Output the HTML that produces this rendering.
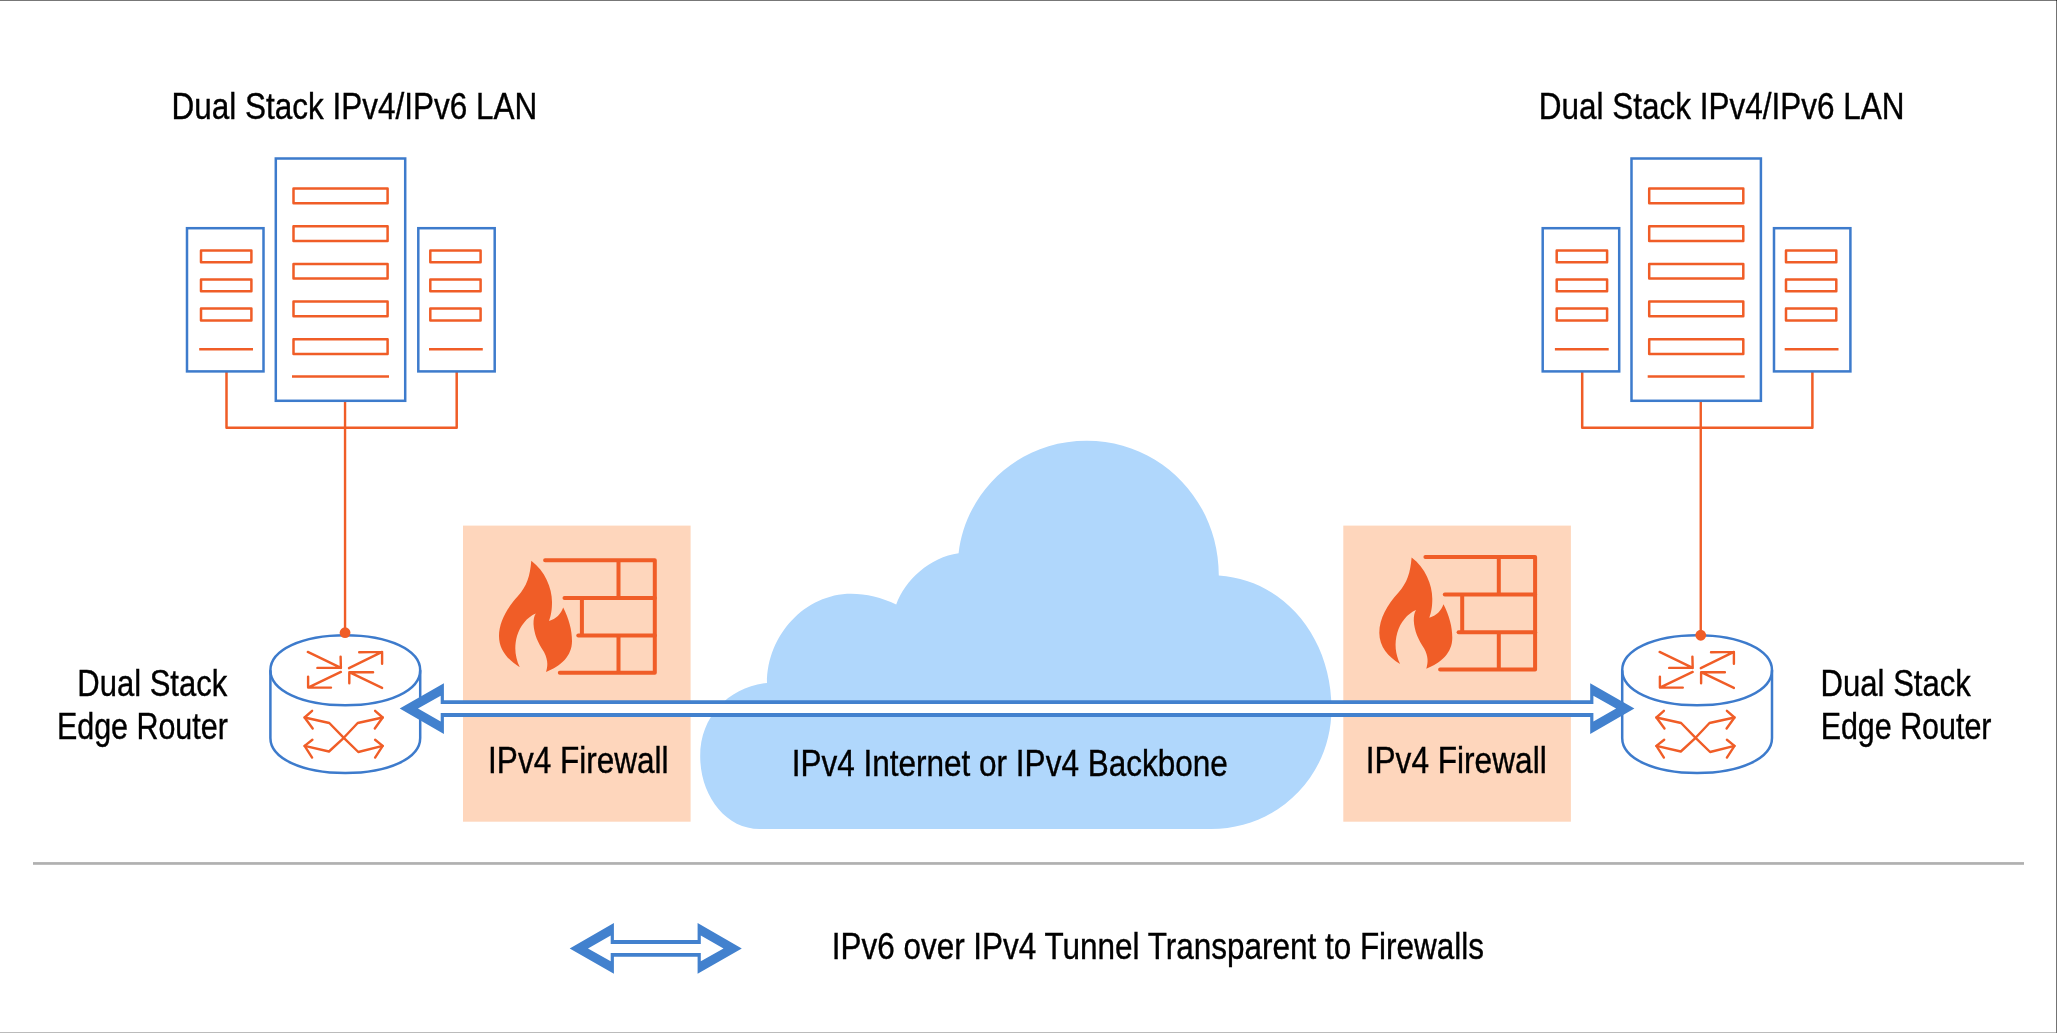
<!DOCTYPE html><html><head><meta charset="utf-8"><style>html,body{margin:0;padding:0;background:#fff;overflow:hidden}svg{display:block}</style></head><body>
<div style="will-change:transform"><svg width="2057" height="1033" viewBox="0 0 2057 1033" style="font-family:'Liberation Sans',sans-serif">
<rect x="0" y="0" width="2057" height="1033" fill="#fff"/>
<text transform="translate(171.55 119.40) scale(0.8422 1)" font-size="37.40" stroke="#000" stroke-width="0.40">Dual Stack IPv4/IPv6 LAN</text>
<text transform="translate(1538.75 119.40) scale(0.8420 1)" font-size="37.40" stroke="#000" stroke-width="0.40">Dual Stack IPv4/IPv6 LAN</text>
<g transform="translate(0.00 0)">
<g fill="none" stroke="#f05d27" stroke-width="2.50" stroke-linejoin="round">
<rect x="293.5" y="188.50" width="94.1" height="14.7"/>
<rect x="293.5" y="226.20" width="94.1" height="14.7"/>
<rect x="293.5" y="263.90" width="94.1" height="14.7"/>
<rect x="293.5" y="301.60" width="94.1" height="14.7"/>
<rect x="293.5" y="339.30" width="94.1" height="14.7"/>
<line x1="292" y1="376.5" x2="389" y2="376.5"/>
<rect x="201" y="250.50" width="50.4" height="11.8"/>
<rect x="430.3" y="250.50" width="50.3" height="11.8"/>
<rect x="201" y="279.55" width="50.4" height="11.8"/>
<rect x="430.3" y="279.55" width="50.3" height="11.8"/>
<rect x="201" y="308.60" width="50.4" height="11.8"/>
<rect x="430.3" y="308.60" width="50.3" height="11.8"/>
<line x1="199.2" y1="349.2" x2="253" y2="349.2"/>
<line x1="429" y1="349.2" x2="482.8" y2="349.2"/>
<polyline points="226.5,371.2 226.5,427.8 456.7,427.8 456.7,371.2"/>
</g>
<line x1="345.05" y1="400.8" x2="345.05" y2="427.8" stroke="#f05d27" stroke-width="2.4"/>
<g fill="none" stroke="#3d7bcc" stroke-width="2.50">
<rect x="275.8" y="158.5" width="129.4" height="242.3"/>
<rect x="187" y="228.2" width="76.5" height="143.2"/>
<rect x="418.3" y="228.2" width="76.4" height="143.2"/>
</g>
</g>
<g transform="translate(1355.70 0)">
<g fill="none" stroke="#f05d27" stroke-width="2.50" stroke-linejoin="round">
<rect x="293.5" y="188.50" width="94.1" height="14.7"/>
<rect x="293.5" y="226.20" width="94.1" height="14.7"/>
<rect x="293.5" y="263.90" width="94.1" height="14.7"/>
<rect x="293.5" y="301.60" width="94.1" height="14.7"/>
<rect x="293.5" y="339.30" width="94.1" height="14.7"/>
<line x1="292" y1="376.5" x2="389" y2="376.5"/>
<rect x="201" y="250.50" width="50.4" height="11.8"/>
<rect x="430.3" y="250.50" width="50.3" height="11.8"/>
<rect x="201" y="279.55" width="50.4" height="11.8"/>
<rect x="430.3" y="279.55" width="50.3" height="11.8"/>
<rect x="201" y="308.60" width="50.4" height="11.8"/>
<rect x="430.3" y="308.60" width="50.3" height="11.8"/>
<line x1="199.2" y1="349.2" x2="253" y2="349.2"/>
<line x1="429" y1="349.2" x2="482.8" y2="349.2"/>
<polyline points="226.5,371.2 226.5,427.8 456.7,427.8 456.7,371.2"/>
</g>
<line x1="345.05" y1="400.8" x2="345.05" y2="427.8" stroke="#f05d27" stroke-width="2.4"/>
<g fill="none" stroke="#3d7bcc" stroke-width="2.50">
<rect x="275.8" y="158.5" width="129.4" height="242.3"/>
<rect x="187" y="228.2" width="76.5" height="143.2"/>
<rect x="418.3" y="228.2" width="76.4" height="143.2"/>
</g>
</g>
<path fill="#b0d7fc" d="M759.7 829 L1211 829 C1278 829 1331.5 776 1331.5 708.5 C1331.5 638 1285 580 1218.8 575.4 C1218.8 500 1160 440.7 1086.8 440.7 C1015 440.7 965 495 958.6 553.2 C930 557 905 580 896.2 604.5 C882 597.5 866 593.7 851.2 593.7 C805 593.7 767 635 767 682.9 C730 687 700.2 715 700.2 756.4 C700.2 795 725 829 759.7 829 Z"/>
<rect x="463.00" y="525.6" width="227.6" height="296.1" fill="#fed6bc"/>
<g transform="translate(0.00 0.00)">
<g fill="none" stroke="#f05d27" stroke-width="4" stroke-linecap="round" stroke-linejoin="round">
<polyline points="545.1,560.25 654.8,560.25 654.8,672.8 559.8,672.8"/>
<line x1="564.5" y1="597.9" x2="654.8" y2="597.9"/>
<line x1="578.3" y1="635.5" x2="654.8" y2="635.5"/>
<path stroke-linecap="butt" d="M618.5 560.25 V597.9 M581.9 597.9 V635.5 M618.5 635.5 V672.8"/>
</g>
<path fill="#f05d27" d="M531.3 560.8 C545 571 552 588 552 602 C552 610 551 615 549 621 C556 619 561 614 563.2 607.5 C569 619 572 630 572 641 C572 656 561 666 546 672 C548 665 548 660 544 652 C538 643 534 634 533.5 624 C533.5 619 534 616 535.8 613.4 C527 617 520 626 517 636 C514 647 515 657 519.8 667.3 C508 660 499 650 499 636 C499 622 507 608 518 596 C527 586 530 576 531.3 560.8 Z"/>
</g>
<rect x="1343.30" y="525.6" width="227.6" height="296.1" fill="#fed6bc"/>
<g transform="translate(880.30 -3.30)">
<g fill="none" stroke="#f05d27" stroke-width="4" stroke-linecap="round" stroke-linejoin="round">
<polyline points="545.1,560.25 654.8,560.25 654.8,672.8 559.8,672.8"/>
<line x1="564.5" y1="597.9" x2="654.8" y2="597.9"/>
<line x1="578.3" y1="635.5" x2="654.8" y2="635.5"/>
<path stroke-linecap="butt" d="M618.5 560.25 V597.9 M581.9 597.9 V635.5 M618.5 635.5 V672.8"/>
</g>
<path fill="#f05d27" d="M531.3 560.8 C545 571 552 588 552 602 C552 610 551 615 549 621 C556 619 561 614 563.2 607.5 C569 619 572 630 572 641 C572 656 561 666 546 672 C548 665 548 660 544 652 C538 643 534 634 533.5 624 C533.5 619 534 616 535.8 613.4 C527 617 520 626 517 636 C514 647 515 657 519.8 667.3 C508 660 499 650 499 636 C499 622 507 608 518 596 C527 586 530 576 531.3 560.8 Z"/>
</g>
<line x1="345.05" y1="427.80" x2="345.05" y2="632.70" stroke="#f05d27" stroke-width="2.4"/>
<g fill="none" stroke="#3d7bcc" stroke-width="2.50">
<path d="M270.40 670.20 C270.40 649.90 301.86 635.20 345.30 635.20 C388.74 635.20 420.20 649.90 420.20 670.20 C420.20 690.50 388.74 705.20 345.30 705.20 C301.86 705.20 270.40 690.50 270.40 670.20 Z"/>
<path d="M270.40 670.20 V738.00 C270.40 758.30 301.86 773.00 345.30 773.00 C388.74 773.00 420.20 758.30 420.20 738.00 V670.20"/>
</g>
<circle cx="345.05" cy="632.70" r="5.4" fill="#f05d27"/>
<g transform="translate(0.00 0)" fill="none" stroke="#f05d27" stroke-width="2.4" stroke-linecap="round" stroke-linejoin="round">
<path d="M307.8 651.9 L340.9 667.9 M317.4 667.9 L340.9 667.9 L340.6 656.6"/>
<path d="M349 668.2 L382.1 651.9 M359.2 652.2 L382.1 651.9 L382.1 663.8"/>
<path d="M382.1 687.9 L349.3 672.2 M373.1 672.2 L349.3 672.2 L349.3 683.3"/>
<path d="M340.9 671.9 L308.1 687.6 M308.1 676.6 L308.1 687.6 L331 687.6"/>
<path d="M304.6 717.5 L329.3 723 L343.8 737.8 L358.3 752 L382.7 745.9"/>
<path d="M304.6 745.9 L329 751.5 L343.8 737.8 L357.7 723 L382.7 717.5"/>
<path d="M312.1 710.8 L304.6 717.5 L312.7 728.5"/>
<path d="M375.1 739.8 L382.7 745.9 L375.1 757.6"/>
<path d="M312.4 739.8 L304.6 745.9 L312.1 757.6"/>
<path d="M375.1 710.8 L382.7 717.5 L374.8 728.5"/>
</g>
<line x1="1700.75" y1="427.80" x2="1700.75" y2="635.25" stroke="#f05d27" stroke-width="2.4"/>
<g fill="none" stroke="#3d7bcc" stroke-width="2.50">
<path d="M1622.20 670.20 C1622.20 649.90 1653.66 635.20 1697.10 635.20 C1740.54 635.20 1772.00 649.90 1772.00 670.20 C1772.00 690.50 1740.54 705.20 1697.10 705.20 C1653.66 705.20 1622.20 690.50 1622.20 670.20 Z"/>
<path d="M1622.20 670.20 V738.00 C1622.20 758.30 1653.66 773.00 1697.10 773.00 C1740.54 773.00 1772.00 758.30 1772.00 738.00 V670.20"/>
</g>
<circle cx="1700.75" cy="635.25" r="5.4" fill="#f05d27"/>
<g transform="translate(1351.80 0)" fill="none" stroke="#f05d27" stroke-width="2.4" stroke-linecap="round" stroke-linejoin="round">
<path d="M307.8 651.9 L340.9 667.9 M317.4 667.9 L340.9 667.9 L340.6 656.6"/>
<path d="M349 668.2 L382.1 651.9 M359.2 652.2 L382.1 651.9 L382.1 663.8"/>
<path d="M382.1 687.9 L349.3 672.2 M373.1 672.2 L349.3 672.2 L349.3 683.3"/>
<path d="M340.9 671.9 L308.1 687.6 M308.1 676.6 L308.1 687.6 L331 687.6"/>
<path d="M304.6 717.5 L329.3 723 L343.8 737.8 L358.3 752 L382.7 745.9"/>
<path d="M304.6 745.9 L329 751.5 L343.8 737.8 L357.7 723 L382.7 717.5"/>
<path d="M312.1 710.8 L304.6 717.5 L312.7 728.5"/>
<path d="M375.1 739.8 L382.7 745.9 L375.1 757.6"/>
<path d="M312.4 739.8 L304.6 745.9 L312.1 757.6"/>
<path d="M375.1 710.8 L382.7 717.5 L374.8 728.5"/>
</g>
<polygon fill="#4281ce" points="399.70,708.60 443.90,683.30 443.90,700.15 1590.20,700.15 1590.20,683.30 1634.40,708.60 1590.20,733.90 1590.20,717.05 443.90,717.05 443.90,733.90"/>
<polygon fill="#fff" points="418.00,708.60 440.70,695.70 440.70,704.10 1593.40,704.10 1593.40,695.70 1616.10,708.60 1593.40,721.50 1593.40,713.10 440.70,713.10 440.70,721.50"/>
<text transform="translate(77.28 696.00) scale(0.8408 1)" font-size="36.90" stroke="#000" stroke-width="0.40">Dual Stack</text>
<text transform="translate(56.93 738.80) scale(0.8249 1)" font-size="36.90" stroke="#000" stroke-width="0.40">Edge Router</text>
<text transform="translate(1820.58 696.00) scale(0.8425 1)" font-size="36.90" stroke="#000" stroke-width="0.40">Dual Stack</text>
<text transform="translate(1820.63 738.80) scale(0.8249 1)" font-size="36.90" stroke="#000" stroke-width="0.40">Edge Router</text>
<text transform="translate(488.10 772.90) scale(0.8547 1)" font-size="36.90" stroke="#000" stroke-width="0.40">IPv4 Firewall</text>
<text transform="translate(1365.69 772.90) scale(0.8571 1)" font-size="36.90" stroke="#000" stroke-width="0.40">IPv4 Firewall</text>
<text transform="translate(791.70 776.00) scale(0.8544 1)" font-size="36.90" stroke="#000" stroke-width="0.40">IPv4 Internet or IPv4 Backbone</text>
<rect x="33" y="862.1" width="1991" height="2.7" fill="#b0b0b0"/>
<polygon fill="#4281ce" points="569.70,948.40 613.90,923.10 613.90,939.95 697.60,939.95 697.60,923.10 741.80,948.40 697.60,973.70 697.60,956.85 613.90,956.85 613.90,973.70"/>
<polygon fill="#fff" points="588.00,948.40 610.70,935.50 610.70,943.90 700.80,943.90 700.80,935.50 723.50,948.40 700.80,961.30 700.80,952.90 610.70,952.90 610.70,961.30"/>
<text transform="translate(831.71 958.90) scale(0.8530 1)" font-size="36.90" stroke="#000" stroke-width="0.40">IPv6 over IPv4 Tunnel Transparent to Firewalls</text>
<rect x="0" y="0" width="2057" height="1" fill="#777"/>
<rect x="0" y="1032" width="2057" height="1" fill="#bbb"/>
<rect x="2056" y="0" width="1" height="1033" fill="#737373"/>
<rect x="2056" y="0" width="1" height="1" fill="#333"/>
</svg></div></body></html>
